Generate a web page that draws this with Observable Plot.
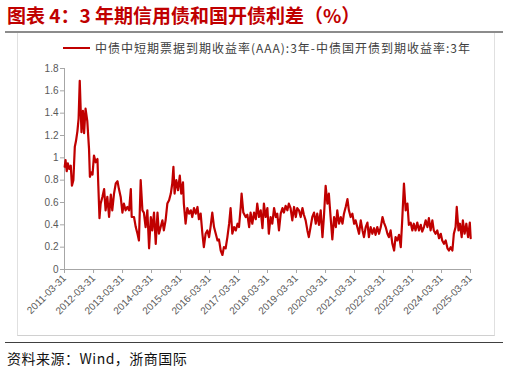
<!DOCTYPE html>
<html><head><meta charset="utf-8">
<script src="https://cdn.jsdelivr.net/npm/d3@7"></script>
<script src="https://cdn.jsdelivr.net/npm/@observablehq/plot@0.6"></script>
<style>
html,body{margin:0;padding:0;background:#fff}
body{width:509px;height:374px;position:relative;overflow:hidden;font-family:"Liberation Sans","Noto Sans CJK SC",sans-serif}
#title{position:absolute;left:7px;top:2px;font-family:"Noto Sans CJK SC";font-weight:bold;font-size:19px;color:#c00000;white-space:nowrap;line-height:26px}
#rule1{position:absolute;left:5px;top:31px;width:498px;border-top:2px solid #8c8c8c}
#frame{position:absolute;left:17px;top:33px;width:476px;height:302px;border-left:1px solid #e0e0e0;border-right:1px solid #e0e0e0;border-bottom:1px solid #d0d0d0}
#legend{position:absolute;left:63px;top:39px;display:flex;align-items:center;white-space:nowrap;font-family:"Noto Sans CJK SC";font-size:12px;color:#404040;letter-spacing:1px}
#legend .sw{width:27px;height:0;border-top:2px solid #c00000;margin-right:5px}
#chart{position:absolute;left:0;top:60px}
#rule2{position:absolute;left:5px;top:342px;width:498px;border-top:1.5px solid #404040}
#source{position:absolute;left:7px;top:347px;font-family:"Noto Sans CJK SC";font-size:14px;color:#111;white-space:nowrap;line-height:22px;letter-spacing:0.5px}
</style></head>
<body>
<div id="title"></div>
<div id="rule1"></div>
<div id="frame"></div>
<div id="legend"><span class="sw"></span><span id="legtext"></span></div>
<div id="chart"></div>
<div id="rule2"></div>
<div id="source"></div>
<script>
const titleText = "图表 4：3 年期信用债和国开债利差（%）";
const seriesName = "中债中短期票据到期收益率(AAA):3年-中债国开债到期收益率:3年";
const sourceText = "资料来源：Wind，浙商国际";
const xTickLabels = ["2011-03-31","2012-03-31","2013-03-31","2014-03-31","2015-03-31","2016-03-31","2017-03-31","2018-03-31","2019-03-31","2020-03-31","2021-03-31","2022-03-31","2023-03-31","2024-03-31","2025-03-31"];
const yTicks = [0,0.2,0.4,0.6,0.8,1,1.2,1.4,1.6,1.8];
const yTickLabels = ["0","0.2","0.4","0.6","0.8","1","1.2","1.4","1.6","1.8"];

// observation times as decimal years
const years = [
2011.25,2011.28,2011.32,2011.36,2011.41,2011.46,2011.50,2011.55,2011.60,2011.64,2011.69,2011.73,2011.77,2011.80,2011.83,2011.86,2011.88,2011.92,2011.97,
2012.03,2012.09,2012.12,2012.17,2012.21,2012.26,2012.32,2012.38,2012.41,2012.45,2012.49,2012.55,2012.61,2012.66,2012.72,2012.78,2012.84,2012.89,2012.95,
2013.01,2013.07,2013.12,2013.18,2013.24,2013.29,2013.35,2013.41,2013.47,2013.53,2013.56,2013.64,2013.70,2013.76,2013.81,2013.87,2013.93,2013.98,
2014.04,2014.10,2014.16,2014.22,2014.27,2014.33,2014.39,2014.45,2014.50,
2014.56,2014.62,2014.67,2014.73,2014.79,2014.85,2014.91,2014.96,
2015.00,2015.04,2015.10,2015.16,2015.22,2015.27,2015.33,2015.36,2015.42,2015.48,2015.54,2015.60,2015.65,2015.71,2015.77,2015.83,2015.88,2015.94,
2016.00,2016.05,2016.11,2016.17,2016.23,2016.28,2016.34,2016.40,2016.46,2016.52,2016.57,2016.63,2016.69,2016.74,2016.80,2016.86,2016.92,2016.97,
2017.03,2017.09,2017.15,2017.21,2017.26,2017.32,2017.35,2017.41,2017.49,2017.55,2017.61,2017.66,2017.72,2017.78,2017.84,2017.89,2017.95,2018.01,
2018.07,2018.12,2018.18,2018.24,2018.29,2018.35,2018.41,2018.47,2018.53,2018.58,2018.64,2018.70,2018.76,2018.81,2018.87,2018.93,2018.98,
2019.04,2019.10,2019.16,2019.22,2019.27,2019.33,2019.39,2019.45,2019.50,2019.56,2019.62,2019.67,2019.73,2019.79,2019.85,2019.91,2019.96,
2020.02,2020.08,2020.14,2020.19,2020.25,2020.31,2020.36,2020.42,2020.48,2020.54,2020.60,2020.65,2020.71,2020.77,2020.83,2020.88,2020.94,
2021.00,2021.05,2021.11,2021.17,2021.23,2021.28,2021.34,2021.40,2021.46,2021.52,2021.57,2021.63,
2021.69,2021.74,2021.80,2021.86,2021.92,2021.97,
2022.03,2022.09,2022.15,2022.21,2022.26,2022.32,2022.38,2022.43,2022.49,2022.55,2022.61,2022.66,2022.72,2022.78,2022.84,2022.89,2022.95,
2023.01,2023.07,2023.12,2023.18,2023.24,2023.29,2023.35,2023.41,2023.47,2023.53,2023.58,2023.64,2023.70,2023.76,2023.81,2023.87,2023.93,2023.98,
2024.04,2024.10,2024.16,2024.22,2024.27,2024.33,2024.39,2024.45,2024.50,2024.56,2024.62,2024.67,2024.73,2024.77,2024.83,2024.88,2024.94,2024.98,
2025.04,2025.10,2025.16,2025.22,2025.25
];
// spread values (%)
const spread = [
0.92,0.98,0.88,0.95,0.90,0.93,0.75,0.80,1.10,1.15,1.24,1.35,1.69,1.45,1.23,1.38,1.42,1.22,1.44,1.33,
1.08,0.83,0.87,0.85,1.02,0.96,0.99,0.75,0.46,0.59,0.65,0.72,0.53,0.65,0.47,0.67,0.53,0.68,0.77,0.79,
0.72,0.65,0.51,0.59,0.53,0.56,0.53,0.72,0.47,0.47,0.38,0.32,0.26,0.80,0.53,0.51,0.38,0.53,0.19,0.47,
0.35,0.51,0.23,0.51,0.32,
0.38,0.44,0.35,0.44,0.59,0.62,0.68,0.77,0.92,0.68,0.80,0.71,0.84,0.68,0.78,0.59,0.41,0.55,0.50,0.53,
0.47,0.55,0.50,0.56,0.45,0.50,0.32,0.20,0.32,0.35,0.29,0.38,0.51,0.38,0.32,0.26,0.27,0.17,0.13,0.20,
0.19,0.29,0.41,0.55,0.32,0.38,0.35,0.41,0.38,0.56,0.68,0.51,0.47,0.49,0.38,0.51,0.41,0.51,0.45,0.59,
0.47,0.53,
0.37,0.59,0.47,0.55,0.32,0.47,0.41,0.55,0.47,0.50,0.35,0.50,0.55,0.51,0.57,0.53,0.59,0.55,0.44,0.56,
0.47,0.55,0.53,0.47,0.55,0.49,0.44,0.35,0.29,0.38,0.47,0.51,0.41,0.50,0.40,0.53,0.29,0.47,0.75,0.59,
0.68,0.47,0.27,0.47,0.38,0.53,0.41,0.47,0.41,0.50,0.56,0.63,0.53,0.47,0.50,0.41,0.44,0.38,0.32,0.44,
0.35,0.29,0.38,
0.42,0.29,0.38,0.32,0.37,0.31,0.38,0.32,0.38,0.47,0.42,0.38,0.32,0.29,0.35,0.23,0.17,0.29,0.26,0.31,
0.20,0.44,0.77,0.53,0.59,0.40,0.42,0.35,0.41,0.35,0.42,0.35,0.40,0.34,0.38,0.44,0.38,0.46,0.35,0.44,
0.35,0.32,0.35,0.28,0.32,0.26,0.23,0.26,0.19,0.17,0.20,0.17,0.32,0.38,0.56,0.35,0.41,0.29,0.44,0.32,
0.41,0.29,0.42,0.28
];

function yearToDate(y){
  const yr = Math.floor(y);
  const start = Date.UTC(yr,0,1), end = Date.UTC(yr+1,0,1);
  return new Date(start + (y-yr)*(end-start));
}
const data = years.map((y,i)=>({date: yearToDate(y), value: spread[i]}));
const xTicks = xTickLabels.map(s=>new Date(s+"T00:00:00Z"));

document.getElementById("title").textContent = titleText;
document.getElementById("legtext").textContent = seriesName;
document.getElementById("source").textContent = sourceText;

const chart = Plot.plot({
  width: 509,
  height: 280,
  marginLeft: 64,
  marginRight: 39,
  marginTop: 8,
  marginBottom: 71,
  style: {fontFamily: "Liberation Sans, Arial, sans-serif", fontSize: "10px", color: "#595959", background: "transparent"},
  x: {type: "utc", domain: [xTicks[0], xTicks[xTicks.length-1]]},
  y: {domain: [0, 1.8]},
  marks: [
    Plot.ruleY([0], {stroke: "#a6a6a6", strokeWidth: 1}),
    Plot.ruleX([xTicks[0]], {stroke: "#a6a6a6", strokeWidth: 1}),
    Plot.axisY({ticks: yTicks, tickFormat: (d)=>yTickLabels[yTicks.indexOf(d)], tickSize: 4, tickPadding: 2, stroke: "#a6a6a6", fill: "#595959", label: null}),
    Plot.axisX({ticks: xTicks, tickFormat: (d)=>xTickLabels[xTicks.findIndex(t=>+t===+d)], tickSize: 4, tickRotate: -45, tickPadding: 3, stroke: "#a6a6a6", fill: "#595959", label: null}),
    Plot.lineY(data, {x: "date", y: "value", stroke: "#c00000", strokeWidth: 2.2, strokeLinejoin: "round"})
  ]
});
document.getElementById("chart").appendChild(chart);
</script>
</body></html>
